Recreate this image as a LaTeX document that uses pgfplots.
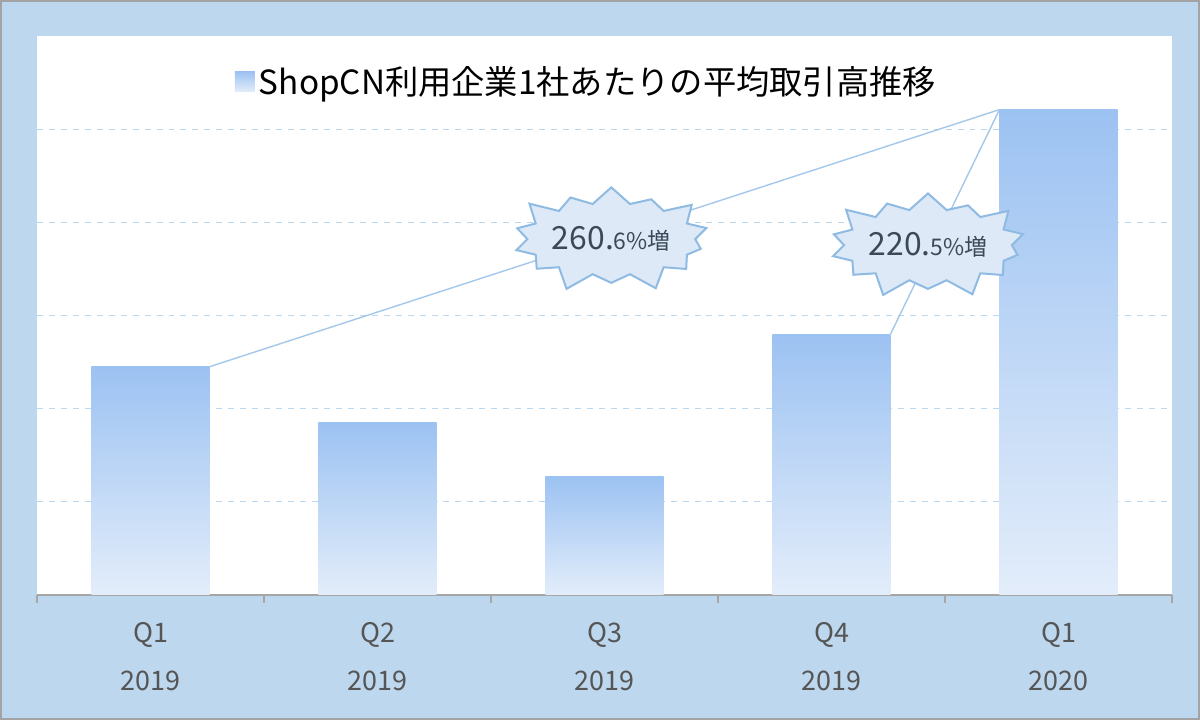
\documentclass[border=0pt]{standalone}
\usepackage{fontspec}
\setmainfont{Noto Sans CJK JP}
\usepackage{pgfplots}
\pgfplotsset{compat=1.18}
\usetikzlibrary{shapes.symbols}
\definecolor{frameblue}{HTML}{BDD7EE}
\definecolor{framegray}{HTML}{A3A3A3}
\definecolor{barTop}{HTML}{9CC2F2}
\definecolor{barBot}{HTML}{E3EDFA}
\definecolor{gridblue}{HTML}{BCD7F0}
\definecolor{linkblue}{HTML}{A4C8EA}
\definecolor{burstfill}{HTML}{DDE9F6}
\definecolor{burstedge}{HTML}{8FBBE3}
\definecolor{labelgray}{HTML}{555555}
\definecolor{bursttext}{HTML}{3A4858}
\definecolor{axisgray}{HTML}{A6A6A6}

\pgfplotsset{
  gradbar/.style={ybar, bar width=0.52, draw=none,
      top color=barTop, bottom color=barBot},
}
\tikzset{
  burst/.style={starburst, starburst points=14, starburst point height=11bp,
      fill=burstfill, draw=burstedge, line width=1bp, text=bursttext,
      minimum width=92bp, minimum height=58bp, inner sep=0pt},
}

\begin{document}
\begin{tikzpicture}
\useasboundingbox (0,0) rectangle (600bp,360bp);
\fill[frameblue, draw=framegray, line width=1bp] (0.5bp,0.5bp) rectangle (599.5bp,359.5bp);
\begin{axis}[
    at={(18.5bp,62.5bp)}, anchor=south west,
    scale only axis,
    width=567.5bp, height=279.5bp,
    axis background/.style={fill=white},
    xmin=-0.5, xmax=4.5,
    ymin=0, ymax=6,
    axis x line*=bottom,
    axis y line*=left,
    x axis line style={axisgray, line width=0.8bp},
    y axis line style={draw=none},
    xtick={0,...,4},
    xticklabels={{Q1\\2019},{Q2\\2019},{Q3\\2019},{Q4\\2019},{Q1\\2020}},
    xticklabel style={align=center, text=labelgray,
        font=\fontsize{13.5}{24}\selectfont, yshift=-6bp},
    major x tick style={draw=none},
    minor xtick={-0.5,0.5,...,4.5},
    minor x tick style={axisgray, line width=0.8bp},
    minor tick length=4bp,
    xtick pos=bottom, tick align=outside,
    ytick={1,...,5},
    yticklabels={},
    major y tick style={draw=none},
    ymajorgrids,
    major grid style={gridblue, dashed, line width=0.6bp},
    legend style={draw=none, fill=none, at={(0.485,0.918)}, anchor=center,
        font=\fontsize{16.7}{18}\selectfont, text=black},
    legend image code/.code={
        \fill[top color=barTop, bottom color=barBot] (0bp,-5bp) rectangle (10bp,5bp);},
]
% one plot per bar, so that each bar gets its own gradient
\addplot[gradbar] coordinates {(0,2.45)};
\addlegendentry{ShopCN利用企業1社あたりの平均取引高推移}
\addplot[gradbar, forget plot] coordinates {(1,1.85)};
\addplot[gradbar, forget plot] coordinates {(2,1.27)};
\addplot[gradbar, forget plot] coordinates {(3,2.80)};
\addplot[gradbar, forget plot] coordinates {(4,5.21)};
% links between bar tops
\draw[linkblue, line width=0.7bp] (axis cs:0.26,2.45) -- (axis cs:3.74,5.21);
\draw[linkblue, line width=0.7bp] (axis cs:3.26,2.80) -- (axis cs:3.74,5.21);
% callouts
\node[burst] at (axis cs:2.03,3.82)
  {\fontsize{16}{18}\selectfont 260.\fontsize{11.5}{12}\selectfont6\%増};
\node[burst] at (axis cs:3.425,3.755)
  {\fontsize{16}{18}\selectfont 220.\fontsize{11.5}{12}\selectfont5\%増};
\end{axis}
\end{tikzpicture}
\end{document}
